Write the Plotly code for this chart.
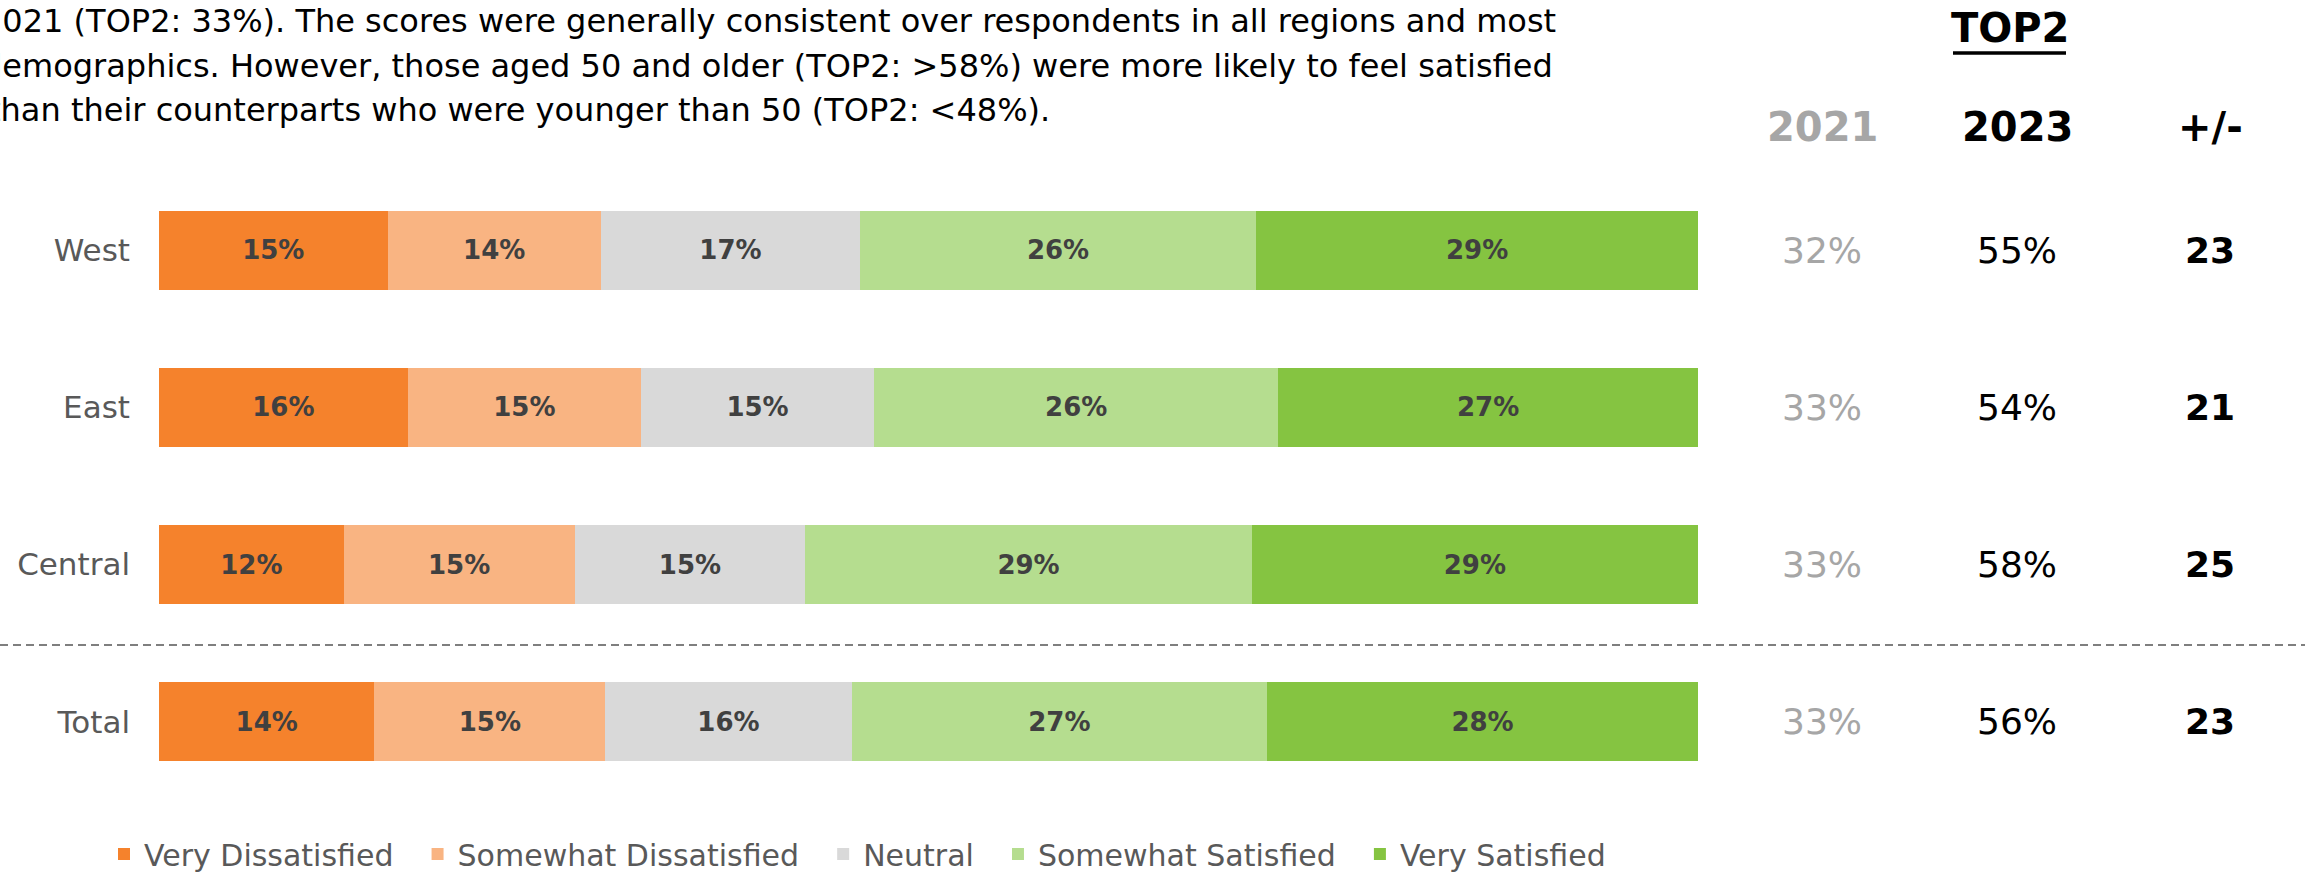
import plotly.graph_objects as go

W, H = 2305, 874

regions = ["West", "East", "Central", "Total"]
levels = ["Very Dissatisfied", "Somewhat Dissatisfied", "Neutral",
          "Somewhat Satisfied", "Very Satisfied"]
level_colors = ["#F5822C", "#F9B482", "#D9D9D9", "#B5DD8F", "#85C441"]

very_dissatisfied = [15, 16, 12, 14]
somewhat_dissatisfied = [14, 15, 15, 15]
neutral = [17, 15, 15, 16]
somewhat_satisfied = [26, 26, 29, 27]
very_satisfied = [29, 27, 29, 28]
series = [very_dissatisfied, somewhat_dissatisfied, neutral,
          somewhat_satisfied, very_satisfied]

top2_2021 = [32, 33, 33, 33]
top2_2023 = [55, 54, 58, 56]
top2_change = [b - a for a, b in zip(top2_2021, top2_2023)]

intro_lines = [
    "2021 (TOP2: 33%). The scores were generally consistent over respondents in all regions and most",
    "demographics. However, those aged 50 and older (TOP2: >58%) were more likely to feel satisfied",
    "than their counterparts who were younger than 50 (TOP2: <48%).",
]

FONT = "DejaVu Sans"
NBSP = "\u00a0"


def px_x(p):
    return p / W


def px_y(p):
    return 1 - p / H


fig = go.Figure()
for name, vals, col in zip(levels, series, level_colors):
    fig.add_trace(go.Bar(
        y=regions, x=vals, name=name + NBSP * 2, orientation="h",
        marker=dict(color=col, line=dict(width=0)),
        text=[f"{v}%" for v in vals],
        textposition="inside", insidetextanchor="middle",
        textangle=0, constraintext="none",
        textfont=dict(family=FONT, size=26, color="#404040", weight="bold"),
    ))

fig.update_layout(
    width=W, height=H,
    margin=dict(l=0, r=0, t=0, b=0, autoexpand=False),
    paper_bgcolor="white", plot_bgcolor="white",
    barmode="stack", barnorm="percent", bargap=0.497,
    showlegend=True,
    legend=dict(
        orientation="h", x=px_x(104), xanchor="left",
        y=px_y(854), yanchor="middle",
        font=dict(family=FONT, size=30, color="#595959"),
        traceorder="normal", itemwidth=30,
    ),
    xaxis=dict(domain=[px_x(159), px_x(1698)], range=[0, 100],
               visible=False, fixedrange=True),
    yaxis=dict(domain=[px_y(800.5), px_y(171.5)],
               categoryorder="array", categoryarray=regions,
               autorange="reversed", showgrid=False, zeroline=False,
               showline=False, ticks="", ticklabelstandoff=28,
               tickfont=dict(family=FONT, size=31, color="#595959")),
)

annotations = []
# intro paragraph, running off the left edge
for line, y0, dx in zip(intro_lines, [21, 66, 110], [-20, -20, -14]):
    annotations.append(dict(
        text=line, xref="paper", yref="paper", x=px_x(dx), y=px_y(y0),
        xanchor="left", yanchor="middle", showarrow=False,
        font=dict(family=FONT, size=32, color="#000000"),
    ))

col_x = [1822, 2017, 2210]
annotations.append(dict(
    text="<b>TOP2</b>", xref="paper", yref="paper", x=px_x(2010), y=px_y(28),
    xanchor="center", yanchor="middle", showarrow=False,
    font=dict(family=FONT, size=40, color="#000000"),
))
for txt, x0, colr in zip(["2021", "2023", "+/-"], col_x,
                         ["#A6A6A6", "#000000", "#000000"]):
    annotations.append(dict(
        text=f"<b>{txt}</b>", xref="paper", yref="paper", x=px_x(x0), y=px_y(127),
        xanchor="center", yanchor="middle", showarrow=False,
        font=dict(family=FONT, size=40, color=colr),
    ))

for r, a, b, d in zip(regions, top2_2021, top2_2023, top2_change):
    annotations.append(dict(
        text=f"{a}%", xref="paper", yref="y", x=px_x(col_x[0]), y=r,
        xanchor="center", yanchor="middle", showarrow=False,
        font=dict(family=FONT, size=36, color="#A6A6A6"),
    ))
    annotations.append(dict(
        text=f"{b}%", xref="paper", yref="y", x=px_x(col_x[1]), y=r,
        xanchor="center", yanchor="middle", showarrow=False,
        font=dict(family=FONT, size=36, color="#000000"),
    ))
    annotations.append(dict(
        text=f"<b>{d}</b>", xref="paper", yref="y", x=px_x(col_x[2]), y=r,
        xanchor="center", yanchor="middle", showarrow=False,
        font=dict(family=FONT, size=36, color="#000000"),
    ))

fig.update_layout(annotations=annotations)

# underline under TOP2 and dashed separator above the Total row
fig.add_shape(type="line", xref="paper", yref="paper",
              x0=px_x(1953), x1=px_x(2066), y0=px_y(53), y1=px_y(53),
              line=dict(color="#000000", width=3.5))
fig.add_shape(type="line", xref="paper", yref="paper",
              x0=0, x1=1, y0=px_y(645), y1=px_y(645),
              line=dict(color="#7F7F7F", width=2, dash="8px,5px"))

fig.write_html("out.html")
